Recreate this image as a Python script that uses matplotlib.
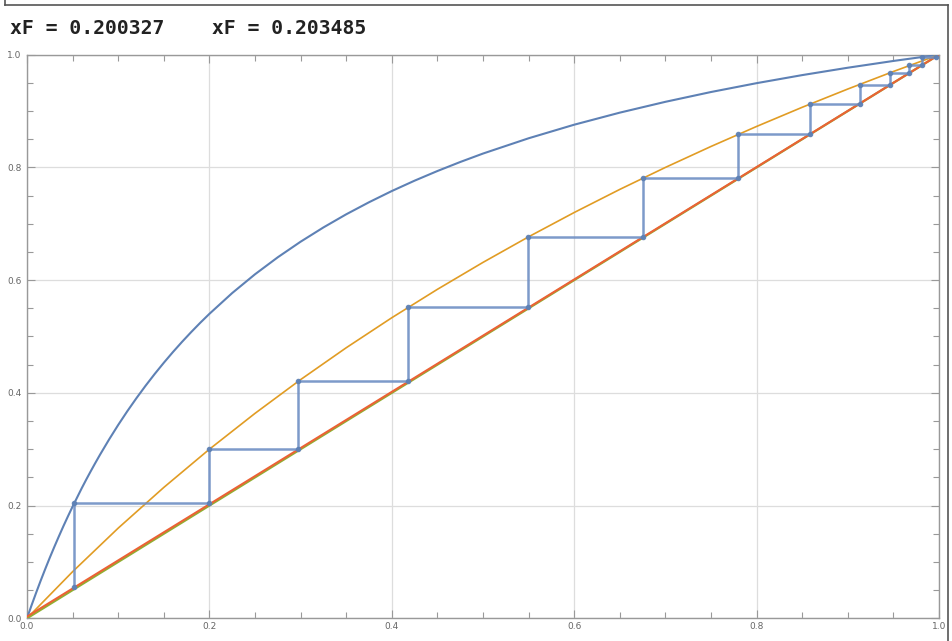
import matplotlib
matplotlib.use('Agg')
import matplotlib.pyplot as plt
from matplotlib.lines import Line2D

# equilibrium curve (upper, blue)
eq_x = [0.0, 0.005, 0.01, 0.015, 0.02, 0.025, 0.03, 0.035, 0.04, 0.045, 0.05,
        0.06, 0.065, 0.07, 0.075, 0.08, 0.09, 0.1, 0.11, 0.12, 0.13, 0.14,
        0.15, 0.16, 0.17, 0.18, 0.19, 0.2, 0.225, 0.25, 0.275, 0.3, 0.325,
        0.35, 0.375, 0.4, 0.425, 0.45, 0.475, 0.5, 0.55, 0.6, 0.65, 0.7,
        0.75, 0.8, 0.85, 0.9, 0.95, 1.0]
eq_y = [0.0, 0.0231, 0.0453, 0.0668, 0.0875, 0.1076, 0.1269, 0.1456, 0.1638,
        0.1813, 0.1983, 0.2308, 0.2463, 0.2613, 0.2759, 0.2901, 0.3173,
        0.3431, 0.3675, 0.3906, 0.4126, 0.4335, 0.4534, 0.4724, 0.4905,
        0.5078, 0.5244, 0.5402, 0.5771, 0.6104, 0.6406, 0.6682, 0.6935,
        0.7168, 0.7382, 0.7581, 0.7765, 0.7936, 0.8096, 0.8246, 0.8517,
        0.8758, 0.8972, 0.9164, 0.9338, 0.9495, 0.9638, 0.9769, 0.9889, 1.0]

# pseudo-equilibrium curve (orange)
pe_x = [0.0, 0.05, 0.1, 0.15, 0.2, 0.25, 0.3, 0.35, 0.4, 0.45, 0.5, 0.55,
        0.6, 0.65, 0.7, 0.75, 0.8, 0.85, 0.9, 0.95, 1.0]
pe_y = [0.0, 0.0827, 0.16, 0.2322, 0.3, 0.3636, 0.4235, 0.48, 0.5333, 0.5837,
        0.6315, 0.6769, 0.72, 0.761, 0.80, 0.8372, 0.8727, 0.9067, 0.9391,
        0.9702, 1.0]

# diagonal and operating line
diag_x = [0.0, 1.0]
diag_y = [0.0, 1.0]
op_x = [0.0, 1.0]
op_y = [0.003, 1.0]

# staircase corners
stage_x = [0.052, 0.200, 0.297, 0.418, 0.549, 0.675, 0.780, 0.859, 0.913,
           0.946, 0.967, 0.981, 0.997]
stage_y = [0.205, 0.300, 0.421, 0.553, 0.677, 0.782, 0.859, 0.913, 0.947,
           0.968, 0.981, 0.996]
stage_start = 0.055

title_text = 'xF = 0.200327    xF = 0.203485'

# build staircase path
px = [stage_x[0]]
py = [stage_start]
for i in range(len(stage_y)):
    px.append(stage_x[i])
    py.append(stage_y[i])
    px.append(stage_x[i + 1])
    py.append(stage_y[i])

fig = plt.figure(figsize=(9.53, 6.41), dpi=100)
ax = fig.add_axes([27 / 953, (641 - 618.3) / 641, 912 / 953, 563.6 / 641])

ax.plot(eq_x, eq_y, color='#5E81B5', lw=1.5, zorder=3)
ax.plot(pe_x, pe_y, color='#E19C24', lw=1.2, zorder=3)
ax.plot(diag_x, diag_y, color='#8FB032', lw=1.6, zorder=3)
ax.plot(op_x, op_y, color='#EB6235', lw=1.5, zorder=4)
ax.plot(px, py, color='#6F8FC4', lw=1.8, alpha=0.9, marker='o',
        markersize=3, markerfacecolor='#5E81B5', markeredgecolor='#5E81B5',
        zorder=5)

ax.set_xlim(0, 1)
ax.set_ylim(0, 1)
ticks = [0.0, 0.2, 0.4, 0.6, 0.8, 1.0]
minor = [i * 0.05 for i in range(21)]
ax.set_xticks(ticks)
ax.set_yticks(ticks)
ax.set_xticks(minor, minor=True)
ax.set_yticks(minor, minor=True)
ax.set_xticklabels(['0.0', '0.2', '0.4', '0.6', '0.8', '1.0'])
ax.set_yticklabels(['0.0', '0.2', '0.4', '0.6', '0.8', '1.0'])
ax.tick_params(which='both', direction='in', top=True, right=True,
               color='#999999', labelsize=6.5, labelcolor='#666666')
ax.tick_params(axis='x', pad=3)
ax.tick_params(axis='y', pad=4)
ax.tick_params(which='major', length=6, width=0.8)
ax.tick_params(which='minor', length=4, width=0.8)
ax.grid(True, which='major', color='#dddddd', lw=0.9)
for s in ax.spines.values():
    s.set_color('#999999')
    s.set_linewidth(1.0)

fig.text(10 / 953, 1 - 34 / 641, title_text, family='DejaVu Sans Mono',
         fontsize=14.2, fontweight='bold', color='#222222', va='baseline')

# outer frame
for xs, ys in [([4.5, 4.5], [-10, 4.5]), ([4.5, 948.5], [4.5, 4.5]),
               ([948.5, 948.5], [4.5, 650])]:
    fig.add_artist(Line2D([x / 953 for x in xs], [1 - y / 641 for y in ys],
                          color='#555555', lw=1.2))

fig.savefig('out.png', dpi=100)
